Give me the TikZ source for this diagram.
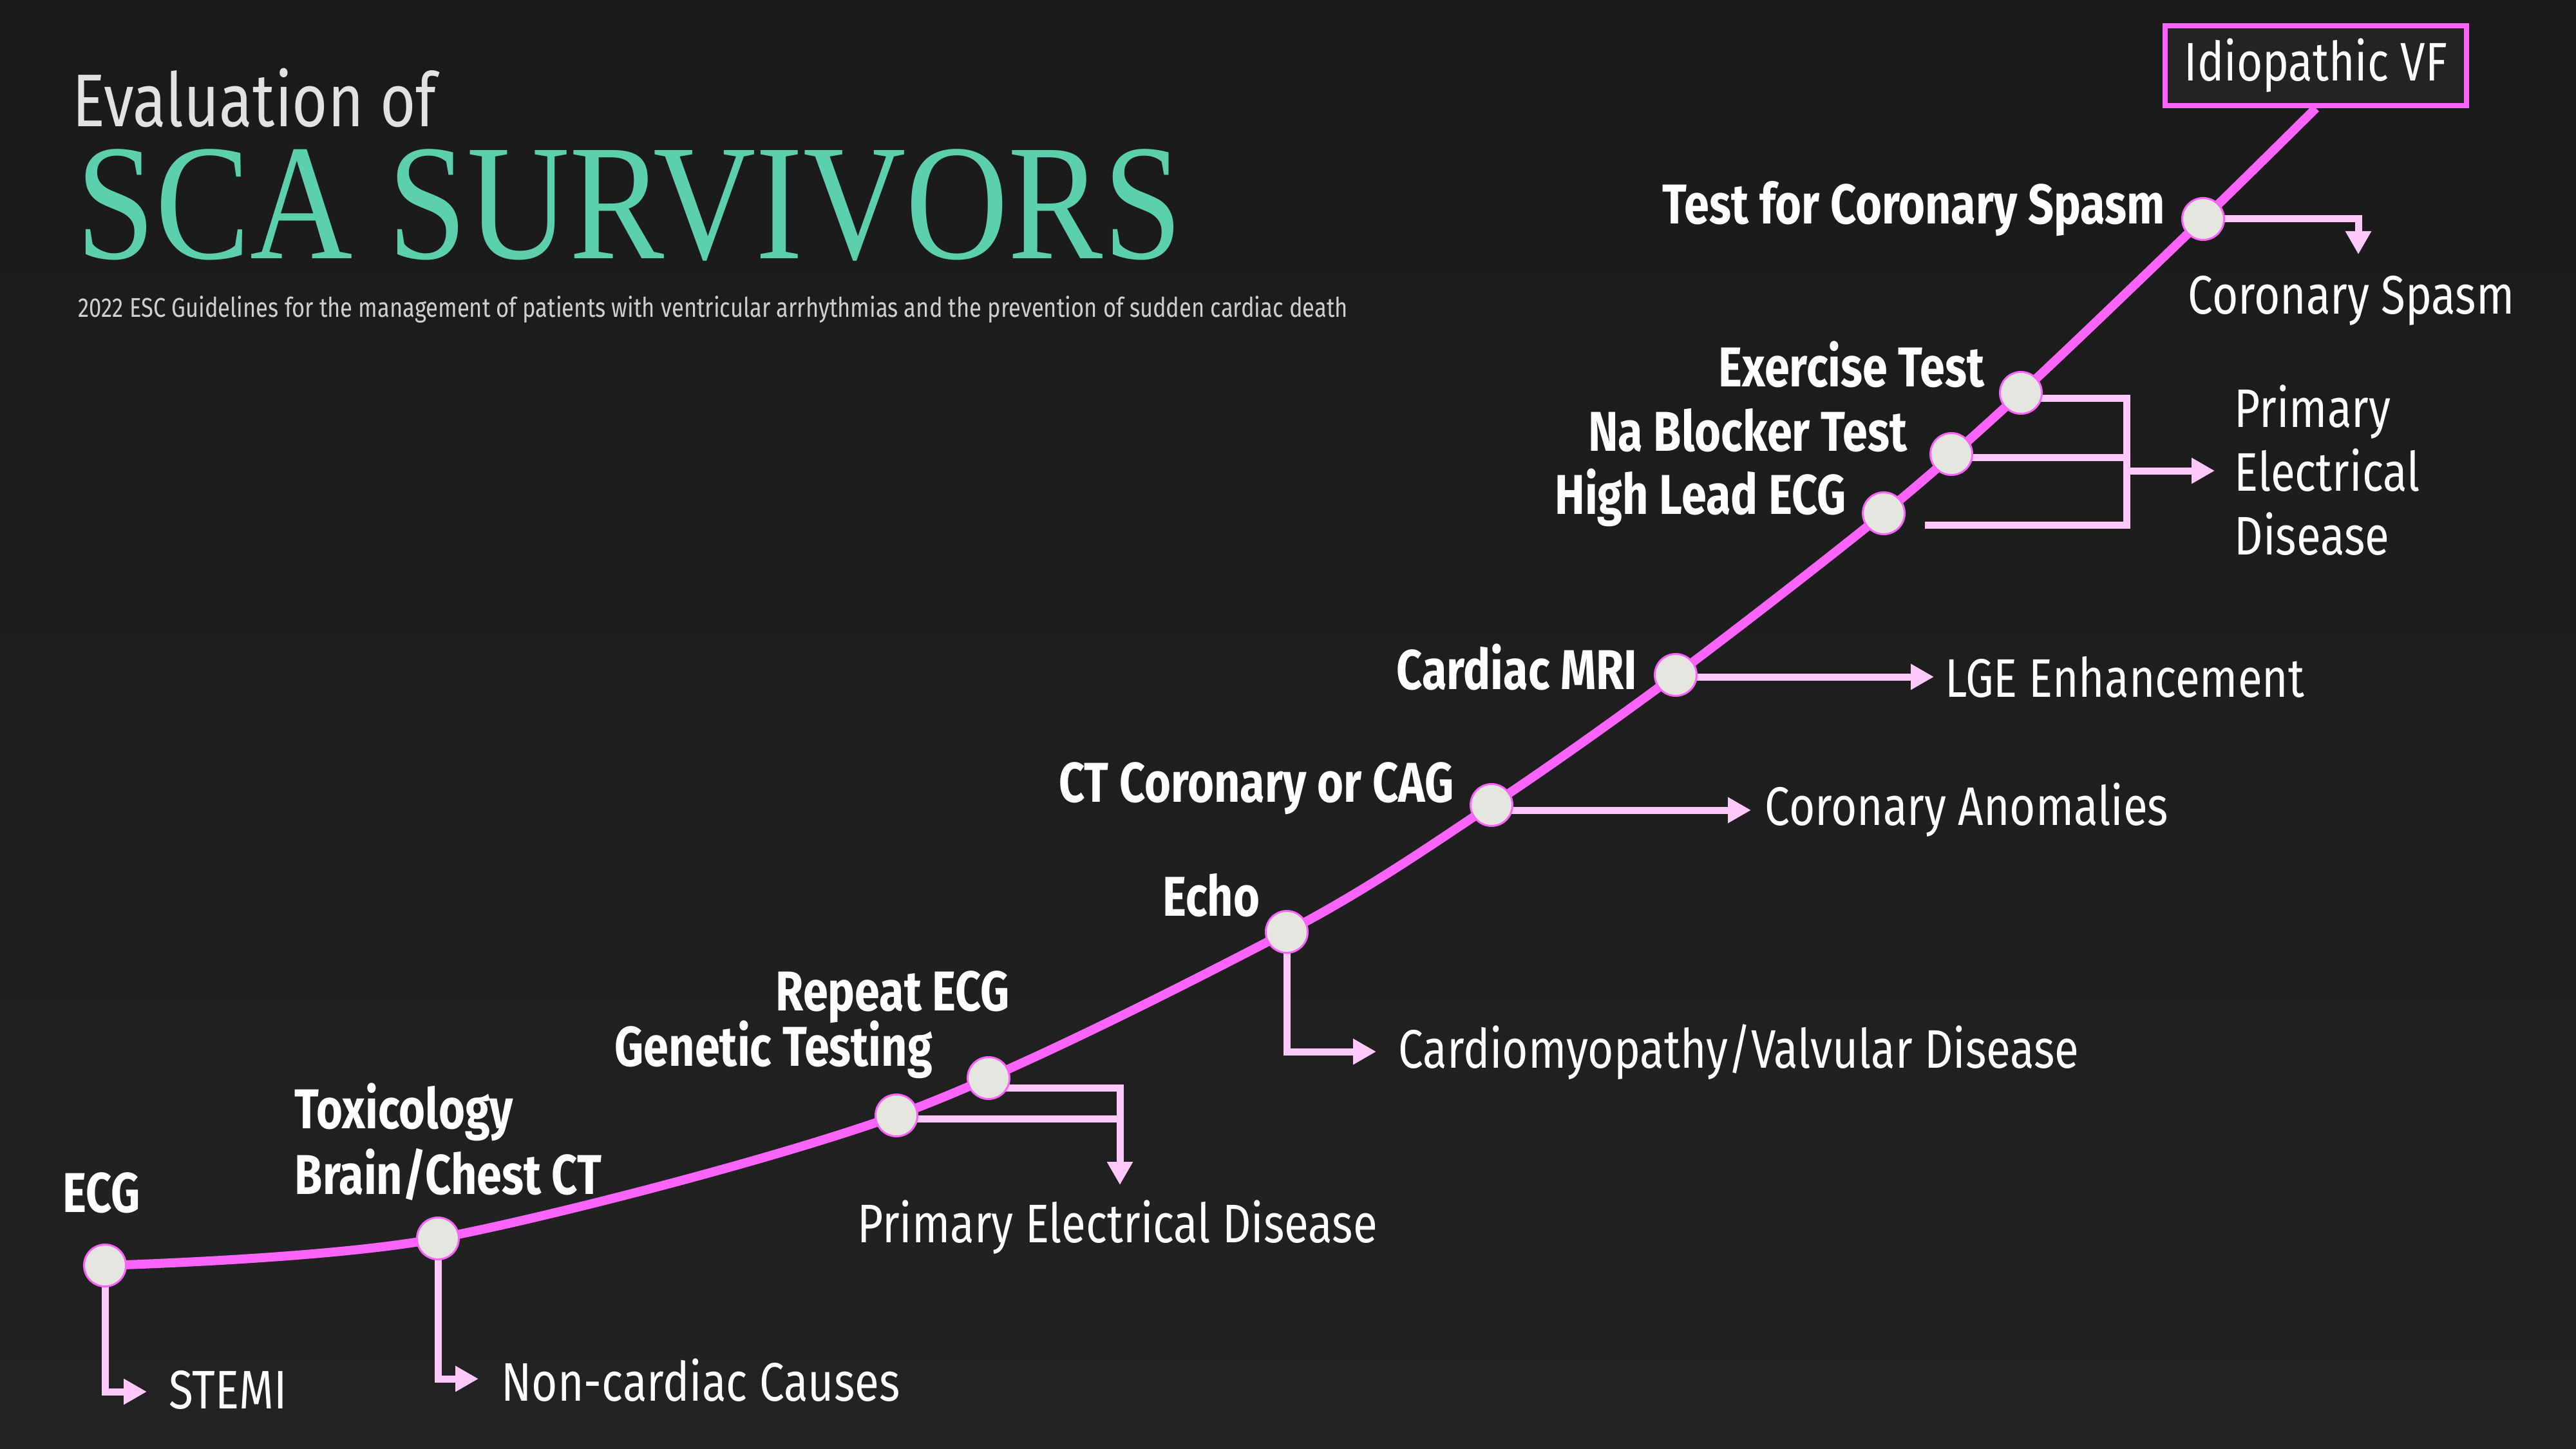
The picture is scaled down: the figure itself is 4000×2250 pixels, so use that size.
\documentclass[tikz,border=0pt]{standalone}
\usepackage{fontspec}
\setmainfont{Fira Sans}[FakeStretch=0.82, BoldFeatures={FakeStretch=0.805}]
\newfontfamily\titlefont{Liberation Serif}[FakeStretch=0.86]
\usetikzlibrary{arrows.meta,calc}
\definecolor{bgtop}{HTML}{1A1A1A}
\definecolor{bgbot}{HTML}{222222}
\definecolor{pinkm}{HTML}{FA64FA}
\definecolor{pinkl}{HTML}{FFC8FA}
\definecolor{dotc}{HTML}{E6E6E1}
\definecolor{teal}{HTML}{5CCFAE}
\definecolor{ttlgray}{HTML}{E2E2E2}
\definecolor{subgray}{HTML}{CFCFCF}
\definecolor{boxfill}{HTML}{232323}
\pgfdeclarelayer{back}
\pgfdeclarelayer{lines}
\pgfsetlayers{back,lines,main}
\tikzset{
  dotnode/.style={circle, fill=dotc, draw=pinkm, line width=0.3mm, minimum size=6.5mm, inner sep=0pt},
  mainline/.style={draw=pinkm, line width=1.4mm},
  br/.style={draw=pinkl, line width=1.1mm},
  arr/.style={-{Triangle[width=3.8mm,length=3.6mm]}},
  lab/.style={font=\bfseries\fontsize{24.8}{28}\selectfont, text=white, inner sep=0pt},
  res/.style={font=\fontsize{24}{28.2}\selectfont, text=white, inner sep=0pt},
}
\begin{document}
\begin{tikzpicture}[x=0.1mm,y=-0.1mm]
\begin{pgfonlayer}{back}
\fill[top color=bgtop, bottom color=bgbot] (0,0) rectangle (4000,2250);
\end{pgfonlayer}
\useasboundingbox (0,0) rectangle (4000,2250);

% title
\node[anchor=base west, inner sep=0pt, text=ttlgray, font=\fontsize{33}{36}\selectfont] (t1) at (112,197) {Evaluation of};
\node[anchor=base west, inner sep=0pt, text=teal, font=\titlefont\fontsize{73}{76}\selectfont, text height=0.6em] (t2) at (118,402) {SCA SURVIVORS};
\node[anchor=base west, inner sep=0pt, text=subgray, font=\fontsize{12}{14}\selectfont] (t3) at (121,493) {2022 ESC Guidelines for the management of patients with ventricular arrhythmias and the prevention of sudden cardiac death};

% dots
\node[dotnode] (ecg) at (163,1965) {};
\node[dotnode] (tox) at (680,1923) {};
\node[dotnode] (gen) at (1392,1732) {};
\node[dotnode] (rep) at (1535,1674) {};
\node[dotnode] (echo) at (1998,1447) {};
\node[dotnode] (ct) at (2316,1250) {};
\node[dotnode] (mri) at (2602,1048) {};
\node[dotnode] (hl) at (2925,797) {};
\node[dotnode] (na) at (3030,705) {};
\node[dotnode] (ex) at (3138,610) {};
\node[dotnode] (sp) at (3421,340) {};

% final box
\node[draw=pinkm, line width=0.8mm, fill=boxfill, minimum width=46.8mm, minimum height=12.4mm, inner sep=0pt, font=\fontsize{24}{28}\selectfont, text=white] (vf) at (3596,102) {Idiopathic VF};

% coordinates for branches
\coordinate (tSTEMI) at (228,2161);
\coordinate (tNC) at (743,2141);
\coordinate (jR) at (1739,1689);
\coordinate (jG) at (1739,1737);
\coordinate (tPED) at (1739,1840);
\coordinate (tCM) at (2137,1633);
\coordinate (tCA) at (2719,1258);
\coordinate (tLGE) at (3003,1051);
\coordinate (jE) at (3302,618);
\coordinate (jN) at (3302,710);
\coordinate (jH) at (3302,815);
\coordinate (hS) at (2989,815);
\coordinate (jA) at (3302,731);
\coordinate (tPE) at (3439,731);
\coordinate (tS) at (3662,395);

\begin{pgfonlayer}{lines}
\draw[mainline] plot[smooth, tension=0.5] coordinates {(ecg.center) (tox.center) (gen.center) (echo.center) (ct.center) (mri.center) (hl.center) (ex.center) (sp.center) (vf.south)};
\draw[br, arr] (ecg.center) |- (tSTEMI);
\draw[br, arr] (tox.center) |- (tNC);
\draw[br, arr] (rep.center |- jR) -- (jR) -- (tPED);
\draw[br] (gen.center |- jG) -- (jG);
\draw[br, arr] (echo.center) |- (tCM);
\draw[br, arr] (ct.center |- tCA) -- (tCA);
\draw[br, arr] (mri.center |- tLGE) -- (tLGE);
\draw[br] (ex.center |- jE) -- (jE) -- (jH) -- (hS);
\draw[br] (na.center |- jN) -- (jN);
\draw[br, arr] (jA) -- (tPE);
\draw[br, arr] (sp.center) -| (tS);
\end{pgfonlayer}

% test labels
\node[lab, anchor=east] (lsp) at (3362,324) {Test for Coronary Spasm};
\node[lab, anchor=east] (lex) at (3082,566) {Exercise Test};
\node[lab, anchor=east] (lna) at (2962,668) {Na Blocker Test};
\node[lab, anchor=east] (lhl) at (2867,773) {High Lead ECG};
\node[lab, anchor=east] (lmri) at (2543,1036) {Cardiac MRI};
\node[lab, anchor=east] (lct) at (2258,1224) {CT Coronary or CAG};
\node[lab, anchor=east] (lecho) at (1957,1390) {Echo};
\node[lab, anchor=west] (lrep) at (1204,1548) {Repeat ECG};
\node[lab, anchor=west] (lgen) at (954,1630) {Genetic Testing};
\node[lab, anchor=west] (ltox) at (457,1727) {Toxicology};
\node[lab, anchor=west] (lbr) at (457,1824) {Brain/Chest CT};
\node[lab, anchor=west] (lecg) at (97,1852) {ECG};

% results
\node[res, anchor=west] (rstemi) at (262,2158) {STEMI};
\node[res, anchor=west] (rnc) at (778,2143) {Non-cardiac Causes};
\node[res] (rped) at (1735,1906) {Primary Electrical Disease};
\node[res, anchor=west] (rcm) at (2171,1633) {Cardiomyopathy/Valvular Disease};
\node[res, anchor=west] (rca) at (2740,1258) {Coronary Anomalies};
\node[res, anchor=west] (rlge) at (3020,1051) {LGE Enhancement};
\node[res, anchor=west, align=left] (rpe) at (3469,730) {Primary\\Electrical\\Disease};
\node[res] (rsp) at (3651,467) {Coronary Spasm};
\end{tikzpicture}
\end{document}
